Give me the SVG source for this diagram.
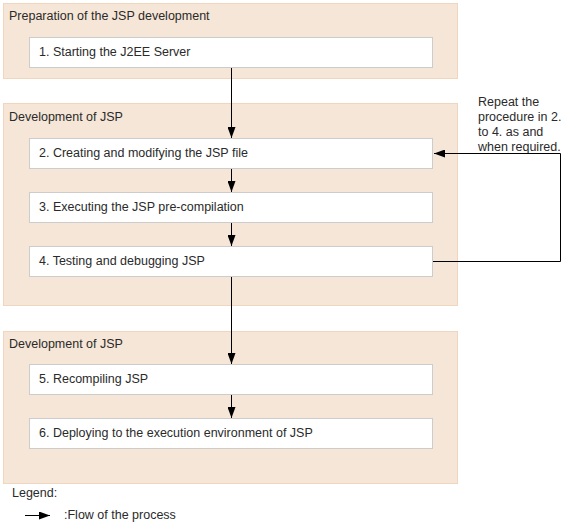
<svg xmlns="http://www.w3.org/2000/svg" width="568" height="525" viewBox="0 0 568 525">
<defs>
<style>
.grp{fill:#f6e6d7;stroke:#f0d6bf;stroke-width:1}
.box{fill:#fff;stroke:#cccccc;stroke-width:1}
text{font-family:"Liberation Sans",Arial,sans-serif;font-size:12.5px;fill:#2a2a2a}
.ln{stroke:#000;stroke-width:1;fill:none}
</style>
<marker id="ah" markerWidth="11" markerHeight="8" refX="11" refY="4" orient="auto" markerUnits="userSpaceOnUse">
<path d="M0,0 L11,4 L0,8 Z" fill="#000"/>
</marker>
</defs>
<rect width="568" height="525" fill="#fff"/>
<g id="group1">
<rect class="grp" x="3.5" y="3.5" width="454" height="75"/>
<text x="9" y="20">Preparation of the JSP development</text>
</g>
<g id="group2">
<rect class="grp" x="3.5" y="103.5" width="454" height="202"/>
<text x="9" y="121">Development of JSP</text>
</g>
<g id="group3">
<rect class="grp" x="3.5" y="331.5" width="454" height="152"/>
<text x="9" y="348">Development of JSP</text>
</g>
<g id="n1">
<rect class="box" x="29.5" y="37.5" width="403" height="30"/>
<text x="39" y="56">1. Starting the J2EE Server</text>
</g>
<g id="n2">
<rect class="box" x="29.5" y="138.5" width="403" height="30"/>
<text x="39" y="157">2. Creating and modifying the JSP file</text>
</g>
<g id="n3">
<rect class="box" x="29.5" y="192.5" width="403" height="30"/>
<text x="39" y="211">3. Executing the JSP pre-compilation</text>
</g>
<g id="n4">
<rect class="box" x="29.5" y="246.5" width="403" height="30"/>
<text x="39" y="265">4. Testing and debugging JSP</text>
</g>
<g id="n5">
<rect class="box" x="29.5" y="364.5" width="403" height="30"/>
<text x="39" y="383">5. Recompiling JSP</text>
</g>
<g id="n6">
<rect class="box" x="29.5" y="418.5" width="403" height="30"/>
<text x="39" y="437">6. Deploying to the execution environment of JSP</text>
</g>
<g id="note">
<text x="478" y="106">Repeat the</text>
<text x="478" y="121">procedure in 2.</text>
<text x="478" y="136">to 4. as and</text>
<text x="478" y="151">when required.</text>
</g>
<g id="connectors">
<line class="ln" x1="231.5" y1="68" x2="231.5" y2="138" marker-end="url(#ah)"/>
<line class="ln" x1="231.5" y1="169" x2="231.5" y2="192" marker-end="url(#ah)"/>
<line class="ln" x1="231.5" y1="223" x2="231.5" y2="246" marker-end="url(#ah)"/>
<line class="ln" x1="231.5" y1="277" x2="231.5" y2="364" marker-end="url(#ah)"/>
<line class="ln" x1="231.5" y1="395" x2="231.5" y2="418" marker-end="url(#ah)"/>
<polyline class="ln" points="433,261.5 560.5,261.5 560.5,153.5 434,153.5" marker-end="url(#ah)"/>
</g>
<g id="legend">
<text x="12" y="497">Legend:</text>
<line class="ln" x1="25" y1="515.5" x2="50" y2="515.5" marker-end="url(#ah)"/>
<text x="64" y="519">:Flow of the process</text>
</g>
</svg>
